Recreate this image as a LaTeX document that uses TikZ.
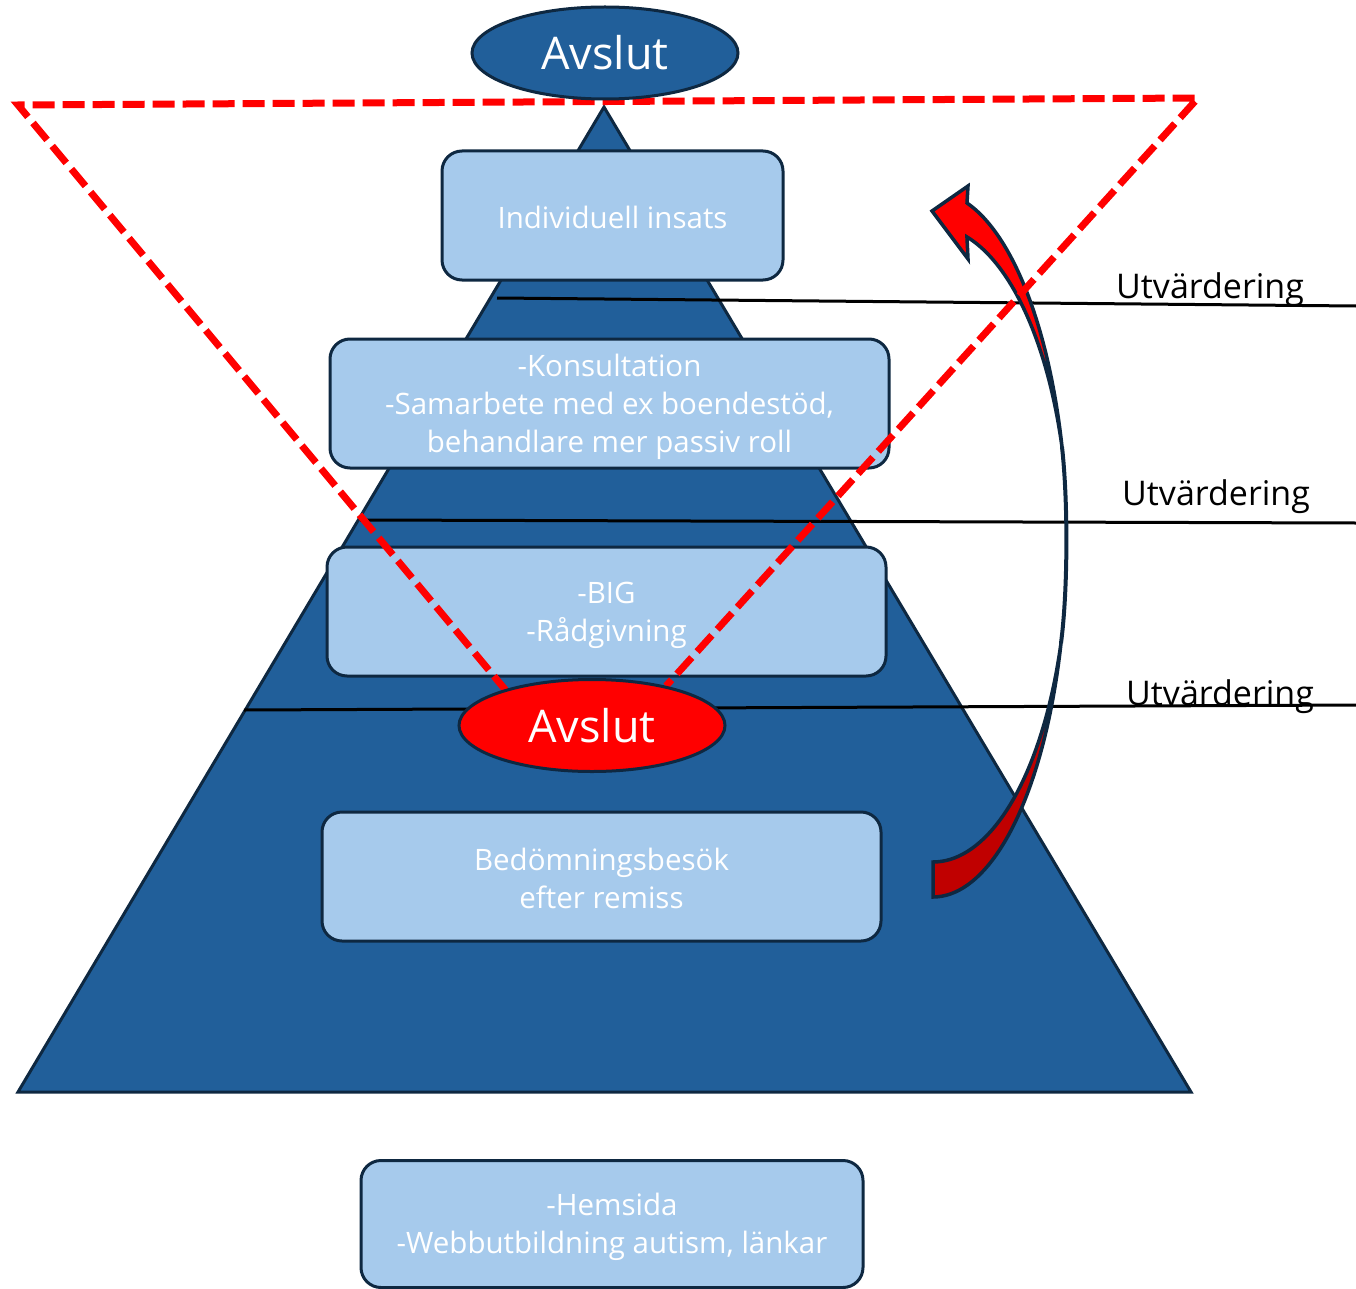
\documentclass[tikz,border=0pt]{standalone}
\usepackage{fontspec}
\setmainfont{Open Sans}
\usetikzlibrary{shapes.geometric}
\definecolor{pyr}{HTML}{215F9A}
\definecolor{boxc}{HTML}{A6CAEC}
\definecolor{navy}{HTML}{0E2841}
\definecolor{darkred}{HTML}{C00000}
\newcommand\lnstrut{\rule[-3pt]{0pt}{32pt}}
\begin{document}
\begin{tikzpicture}[x=1pt,y=-1pt,
  levelbox/.style={draw=navy, line width=3pt, fill=boxc, rounded corners=20pt,
    text=white, align=center, inner sep=0pt, font=\fontsize{29.5}{38}\selectfont},
  endnode/.style={ellipse, draw=navy, line width=3pt, inner sep=0pt,
    minimum width=266pt, minimum height=92pt, text=white, font=\fontsize{45}{50}\selectfont},
  evalline/.style={black, line width=3pt},
  evallabel/.style={anchor=base west, inner sep=0pt, font=\fontsize{34}{38}\selectfont},
  reddash/.style={red, line width=7pt, dash pattern=on 22pt off 8pt},
  arrowline/.style={draw=navy, line width=3.5pt, line join=miter}
]
\useasboundingbox (0,0) rectangle (1356,1289);

% pyramid
\draw[navy, line width=3pt, fill=pyr, line join=miter] (604,107) -- (1191,1092) -- (18,1092) -- cycle;

% level boxes
\node[levelbox, minimum width=341pt, minimum height=129pt] (b1) at (612.5,215.5) {\lnstrut Individuell insats};
\node[levelbox, minimum width=559pt, minimum height=129pt] (b2) at (609.5,403.5)
  {\lnstrut -Konsultation\\\lnstrut -Samarbete med ex boendestöd,\\\lnstrut behandlare mer passiv roll};
\node[levelbox, minimum width=559pt, minimum height=129pt] (b3) at (606.5,611.5) {\lnstrut -BIG\\\lnstrut -Rådgivning};
\node[levelbox, minimum width=559pt, minimum height=129pt] (b4) at (601.5,876.5) {\lnstrut Bedömningsbesök\\\lnstrut efter remiss};
\node[levelbox, minimum width=502pt, minimum height=127pt] (b5) at (612,1224)
  {\lnstrut -Hemsida\\\lnstrut -Webbutbildning autism, länkar};

% evaluation lines
\coordinate (l1a) at (497,298); \coordinate (l1b) at (1356,306);
\coordinate (l2a) at (360,520); \coordinate (l2b) at (1356,523);
\coordinate (l3a) at (244,710); \coordinate (l3b) at (1356,705);
\draw[evalline] (l1a) -- (l1b);
\draw[evalline] (l2a) -- (l2b);
\draw[evalline] (l3a) -- (l3b);
\node[evallabel] (u1) at (1116,298) {Utvärdering};
\node[evallabel] (u2) at (1122,505) {Utvärdering};
\node[evallabel] (u3) at (1126,705) {Utvärdering};

% curved arrow: back part
\filldraw[arrowline, fill=darkred]
  plot[domain=90:16.2, samples=40, variable=\t] ({933+133.3*cos(\t)},{545+352*sin(\t)})
  -- plot[domain=18.0:90, samples=40, variable=\t] ({933+134.6*cos(\t)},{545+317*sin(\t)})
  -- cycle;
% thin middle part
\draw[arrowline, line width=4pt] (1062,447) .. controls (1068,500) and (1068,590) .. (1061,643);
% front part with head
\filldraw[arrowline, fill=red]
  (967,203)
  -- plot[domain=-75.3:-16.1, samples=40, variable=\t] ({933+134.3*cos(\t)},{545+353.5*sin(\t)})
  -- plot[domain=-17.9:-75.5, samples=40, variable=\t] ({933+135.6*cos(\t)},{545+318.2*sin(\t)})
  -- (968,259) -- (932,211) -- (968,186) -- cycle;

% dashed red triangle
\coordinate (tl) at (18,105);
\coordinate (tr) at (1198,98);
\coordinate (le) at (508,693);
\coordinate (re) at (666,686);
\draw[reddash] (le) -- (tl) -- (tr) -- (re);

% end nodes
\node[endnode, fill=pyr] (top) at (605,53) {Avslut};
\node[endnode, fill=red] (mid) at (592,725.5) {Avslut};
\end{tikzpicture}
\end{document}
